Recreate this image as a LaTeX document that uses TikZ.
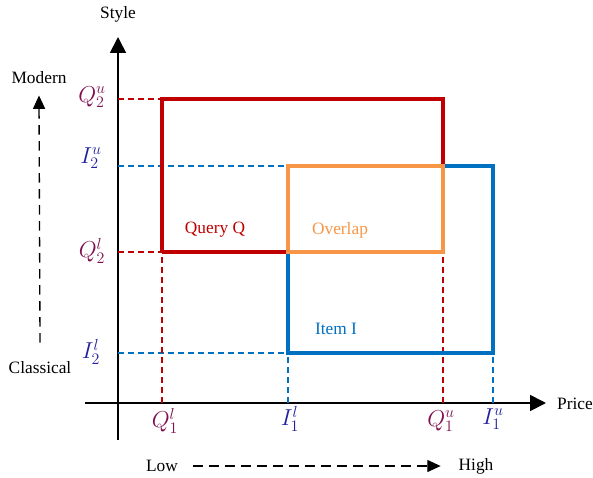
\documentclass[tikz,border=0pt]{standalone}
\usepackage{amsmath,amssymb}
\usepackage{fontspec}
\setmainfont{Liberation Serif}
\usepackage{tikz}
\usetikzlibrary{ positioning, arrows.meta, calc }
\usepackage{xcolor}
\definecolor{qred}{HTML}{C00000}
\definecolor{iblue}{HTML}{0070C0}
\definecolor{ovl}{HTML}{F79646}
\definecolor{qlab}{HTML}{7F0F4F}
\definecolor{ilab}{HTML}{1F1FA0}

\begin{document}
\begin{tikzpicture}[
  x=0.75pt, y=-0.75pt,
  every node/.style={font=\fontsize{13}{15}\selectfont},
  axis/.style={line width=1.3pt, -{Triangle[length=12pt, width=12pt]}},
  guide/.style={line width=1pt, dash pattern=on 7pt off 5pt,
                -{Triangle[length=10pt, width=9pt]}},
  qbox/.style={draw=qred, line width=2.3pt},
  ibox/.style={draw=iblue, line width=2.3pt},
  obox/.style={draw=ovl, line width=3.2pt},
  qdash/.style={qred, line width=0.8pt, dash pattern=on 4.5pt off 3pt},
  idash/.style={iblue, line width=0.8pt, dash pattern=on 4.5pt off 3pt},
  qmath/.style={text=qlab, font=\fontsize{17}{20}\selectfont},
  imath/.style={text=ilab, font=\fontsize{17}{20}\selectfont},
]
  \useasboundingbox (0,0) rectangle (593,478);
  % axes
  \coordinate (ybot) at (118,440);
  \coordinate (ytop) at (118,37);
  \coordinate (xl) at (85,403);
  \coordinate (xr) at (546,403);
  \draw[axis] (ybot) -- (ytop);
  \draw[axis] (xl) -- (xr);
  \node (style) at (118,14) {Style};
  \node (price) at (575,404) {Price};

  % interval end points
  \coordinate (q1l) at (162,403);
  \coordinate (q1u) at (443,403);
  \coordinate (i1l) at (288,403);
  \coordinate (i1u) at (493,403);
  \coordinate (q2u) at (118,99);
  \coordinate (q2l) at (118,252);
  \coordinate (i2u) at (118,166);
  \coordinate (i2l) at (118,353);

  % guide lines
  \draw[qdash] (q2u) -- (162,99);
  \draw[qdash] (q2l) -- (162,252);
  \draw[idash] (i2u) -- (288,166);
  \draw[idash] (i2l) -- (288,353);
  \draw[qdash] (q1l) -- (162,252);
  \draw[qdash] (q1u) -- (443,252);
  \draw[idash] (i1l) -- (288,353);
  \draw[idash] (i1u) -- (493,353);

  % boxes
  \draw[qbox] (162,252) -- (162,99) -- (443,99) -- (443,166);
  \draw[qbox] (162,252) -- (288,252);
  \draw[ibox] (288,252) -- (288,353) -- (493,353) -- (493,166) -- (443,166);
  \draw[obox] (288,166) rectangle (443,252);
  \node[text=qred] (query) at (215,230) {Query Q};
  \node[text=ovl] (overlap) at (340,230) {Overlap};
  \node[text=iblue] (item) at (336,329) {Item I};

  % axis labels
  \node[qmath] (lq2u) at (92,97) {$Q_2^u$};
  \node[imath] (li2u) at (91,158) {$I_2^u$};
  \node[qmath] (lq2l) at (92,251) {$Q_2^l$};
  \node[imath] (li2l) at (91,352) {$I_2^l$};
  \node[qmath] (lq1l) at (165,421) {$Q_1^l$};
  \node[imath] (li1l) at (290,419) {$I_1^l$};
  \node[qmath] (lq1u) at (441,421) {$Q_1^u$};
  \node[imath] (li1u) at (493,419) {$I_1^u$};

  % directions
  \node (modern) at (39,78) {Modern};
  \node (classical) at (40,368) {Classical};
  \draw[guide] ([yshift=11pt]classical.north) -- ([yshift=-5pt]modern.south);
  \node (low) at (162,466) {Low};
  \node (high) at (476,466) {High};
  \draw[guide] ([xshift=8pt]low.east) -- ([xshift=-10pt]high.west);
\end{tikzpicture}
\end{document}
